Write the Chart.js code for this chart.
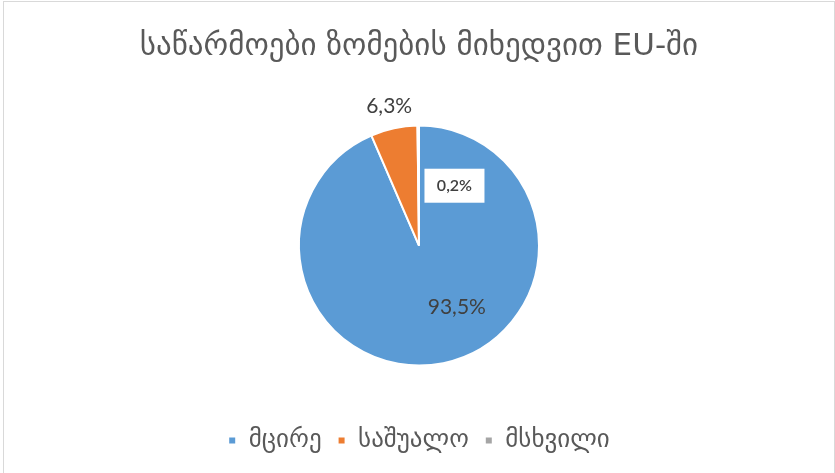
<!DOCTYPE html>
<html>
<head>
<meta charset="utf-8">
<script src="https://cdn.jsdelivr.net/npm/chart.js@4.4.1/dist/chart.umd.min.js"></script>
<style>
  html, body { margin: 0; padding: 0; background: #fff; overflow: hidden; }
  #frame {
    position: absolute; left: 3px; top: 1px;
    width: 830px; height: 480px;
    border: 1px solid #d9d9d9;
  }
  #wrap { position: relative; width: 830px; height: 471px; }
</style>
</head>
<body>
<div id="frame">
  <div id="wrap"><canvas id="pieChart"></canvas></div>
</div>
<script>
// Chart data
const titleText = 'საწარმოები ზომების მიხედვით EU-ში';
const categories = ['მცირე', 'საშუალო', 'მსხვილი'];
const shares = [93.5, 6.3, 0.2];
const sliceColors = ['#5b9bd5', '#ed7d31', '#a5a5a5'];

const GEO_FONT = '"DejaVu Sans", "Noto Sans", sans-serif';
const NUM_FONT = 'Lato, "Open Sans", sans-serif';

// Value labels, placed along each slice (angle shift in degrees, distance as share of radius)
const pctLabels = {
  id: 'pctLabels',
  afterDatasetsDraw(chart, args, opts) {
    const ctx = chart.ctx;
    const meta = chart.getDatasetMeta(0);
    meta.data.forEach((arc, i) => {
      const place = opts.place[i];
      const mid = (arc.startAngle + arc.endAngle) / 2 + place.shift * Math.PI / 180;
      const r = arc.outerRadius * place.dist;
      const x = arc.x + Math.cos(mid) * r;
      const y = arc.y + Math.sin(mid) * r;
      const txt = shares[i].toFixed(1).replace('.', ',') + '%';

      ctx.save();
      ctx.font = (place.weight || 'normal') + ' ' + place.size + 'px ' + NUM_FONT;
      ctx.textAlign = 'center';
      ctx.textBaseline = 'middle';
      if (place.box) {
        const w = 60;
        const h = 34;
        ctx.fillStyle = '#ffffff';
        ctx.fillRect(x - w / 2, y - h / 2, w, h);
      }
      ctx.fillStyle = '#404040';
      ctx.fillText(txt, x, y);
      ctx.restore();
    });
  }
};

const ctx = document.getElementById('pieChart');
new Chart(ctx, {
  type: 'pie',
  data: {
    labels: categories,
    datasets: [{
      data: shares,
      backgroundColor: sliceColors,
      borderColor: '#ffffff',
      borderWidth: 2
    }]
  },
  options: {
    responsive: true,
    maintainAspectRatio: false,
    animation: false,
    radius: 120,
    layout: { padding: { top: 16, bottom: 10 } },
    plugins: {
      title: {
        display: true,
        text: titleText,
        color: '#595959',
        font: { family: GEO_FONT, size: 31, weight: 'normal' },
        padding: { top: 10, bottom: 14 }
      },
      legend: {
        position: 'bottom',
        labels: {
          color: '#595959',
          font: { family: GEO_FONT, size: 25 },
          boxWidth: 8,
          boxHeight: 8,
          padding: 16
        }
      },
      tooltip: { enabled: false },
      pctLabels: {
        place: [
          { shift: -20, dist: 0.6, size: 21 },
          { shift: 0, dist: 1.19, size: 21 },
          { shift: 31, dist: 0.58, size: 16, weight: '600', box: true }
        ]
      }
    }
  },
  plugins: [pctLabels]
});
</script>
</body>
</html>
